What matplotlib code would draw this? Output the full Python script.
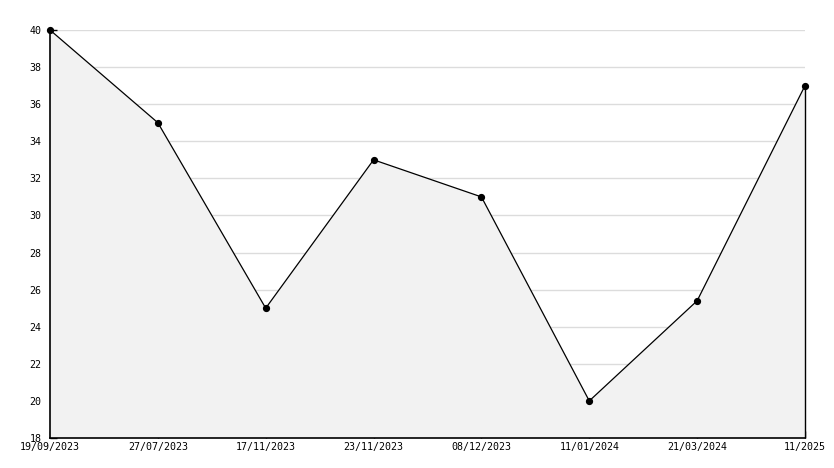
import matplotlib
matplotlib.use("Agg")
import matplotlib.pyplot as plt
from matplotlib.ticker import MultipleLocator

labels = ["19/09/2023", "27/07/2023", "17/11/2023", "23/11/2023",
          "08/12/2023", "11/01/2024", "21/03/2024", "11/2025"]
values = [40, 35, 25, 33, 31, 20, 25.4, 37]

fig = plt.figure(figsize=(8.34, 4.68), dpi=100)
ax = fig.add_axes([50/834, 30/468, 755/834, 408/468])
x = list(range(len(values)))
ymin, ymax = 18, 40

grid_y = list(range(ymin + 2, ymax + 1, 2))
ax.hlines(grid_y, x[0], x[-1], color="#dcdcdc", lw=1, zorder=0.5)
poly_x = x + [x[-1], x[0]]
poly_y = values + [ymin, ymin]
ax.fill(poly_x, poly_y, facecolor="#f2f2f2", edgecolor="none", zorder=3)
ax.vlines(x[-1], ymin, values[-1], color="black", lw=1, zorder=4, clip_on=False)
ax.plot(x, values, color="black", lw=0.9, marker="o", ms=4.2, zorder=5, clip_on=False)

ax.set_xlim(0, len(values) - 1)
ax.set_ylim(ymin, ymax)
ax.set_xticks(x)
ax.set_xticklabels(labels)
ax.yaxis.set_major_locator(MultipleLocator(2))
ax.yaxis.set_minor_locator(MultipleLocator(1))

for s in ["top", "right"]:
    ax.spines[s].set_visible(False)
for s in ["left", "bottom"]:
    ax.spines[s].set_color("black")
    ax.spines[s].set_linewidth(1.2)
    ax.spines[s].set_zorder(6)

ax.tick_params(axis="both", which="both", direction="in", length=5, width=1,
               labelsize=7.2, colors="black")
ax.tick_params(axis="y", pad=6)
ax.tick_params(axis="x", pad=3)
for t in ax.get_xticklabels() + ax.get_yticklabels():
    t.set_family("DejaVu Sans Mono")

fig.savefig("out.png", dpi=100)
